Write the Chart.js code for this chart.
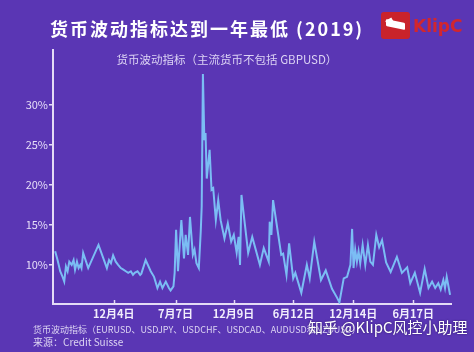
<!DOCTYPE html>
<html>
<head>
<meta charset="utf-8">
<script src="https://cdn.jsdelivr.net/npm/chart.js@4.4.1/dist/chart.umd.min.js"></script>
<style>
  html,body{margin:0;padding:0;background:#5a36b4;}
  #wrap{position:relative;width:474px;height:352px;overflow:hidden;background:#5a36b4;font-family:"Noto Sans CJK SC","Noto Sans",sans-serif;}
  #c{position:absolute;left:0;top:0;}
  .t{position:absolute;white-space:nowrap;}
  #title{left:50px;top:15px;color:#fff;font-size:18px;font-weight:700;letter-spacing:2px;line-height:26px;}
  #sub{left:0;width:454px;text-align:center;top:51px;color:#dcd3f4;font-size:11.5px;line-height:16px;}
  #logo{left:381px;top:12px;width:29px;height:27px;background:#c9232b;border-radius:3px;}
  #logo i{position:absolute;left:5px;top:9px;width:19px;height:7px;background:#fff;transform:skewY(12deg);border-radius:1px;}
  #logo b{position:absolute;left:5px;top:7px;width:7px;height:5px;background:#fff;transform:rotate(-30deg);}
  #brand{left:413px;top:14px;color:#d2262e;font-family:"DejaVu Sans",sans-serif;font-weight:700;font-size:17px;line-height:24px;}
  #foot1{left:33px;top:323px;color:#ddd5f3;font-size:9px;line-height:13px;}
  #foot2{left:33px;top:335px;color:#ddd5f3;font-size:10px;line-height:14px;}
  #wm{left:308px;top:316px;color:#fff;font-size:15px;line-height:22px;text-shadow:0 0 2px rgba(40,20,90,0.9);}
</style>
</head>
<body>
<div id="wrap">
  <canvas id="c" width="474" height="352"></canvas>
  <div class="t" id="title">货币波动指标达到一年最低 (2019)</div>
  <div class="t" id="logo"><i></i><b></b></div>
  <div class="t" id="brand">KlipC</div>
  <div class="t" id="sub">货币波动指标（主流货币不包括 GBPUSD）</div>
  <div class="t" id="foot1">货币波动指标（EURUSD、USDJPY、USDCHF、USDCAD、AUDUSD和NZDUSD）</div>
  <div class="t" id="foot2">来源：Credit Suisse</div>
  <div class="t" id="wm">知乎 @KlipC风控小助理</div>
</div>
<script>
// dates as decimal years, values in %
const dates = [
  2002.47,2002.57,2002.68,2002.78,2002.85,2002.92,2002.99,2003.06,2003.16,2003.24,
  2003.30,2003.38,2003.45,2003.52,2003.57,2003.64,2003.85,2004.28,2004.63,2004.72,
  2004.80,2004.89,2005.00,2005.10,2005.21,2005.32,2005.42,2005.52,2005.63,2005.72,
  2005.79,2005.91,2006.02,2006.07,2006.25,2006.46,2006.60,2006.74,2006.85,2006.95,
  2007.09,2007.22,2007.29,2007.41,2007.46,2007.52,2007.60,2007.74,2007.85,2007.92,
  2008.02,2008.10,2008.22,2008.29,2008.37,2008.47,2008.55,2008.59,2008.64,2008.70,
  2008.75,2008.80,2008.92,2009.00,2009.07,2009.18,2009.28,2009.38,2009.54,2009.68,
  2009.82,2009.93,2010.05,2010.13,2010.19,2010.25,2010.53,2010.70,2011.02,2011.18,
  2011.39,2011.43,2011.50,2011.57,2011.91,2011.99,2012.13,2012.24,2012.41,2012.50,
  2012.75,2012.98,2013.10,2013.29,2013.57,2013.77,2014.03,2014.24,2014.34,2014.52,
  2014.66,2014.80,2014.87,2014.93,2015.00,2015.07,2015.14,2015.21,2015.31,2015.42,
  2015.53,2015.63,2015.74,2015.88,2016.00,2016.12,2016.29,2016.48,2016.74,2016.95,
  2017.17,2017.30,2017.49,2017.71,2017.90,2018.06,2018.21,2018.34,2018.47,2018.57,
  2018.68,2018.75,2018.82,2018.96
];
const volatility = [
  11.7,10.6,9.2,8.5,7.9,9.8,9.2,10.4,10.0,10.6,
  9.4,10.4,9.6,10.0,9.6,11.5,9.6,12.5,9.6,10.6,
  10.2,11.2,10.4,10.0,9.6,9.4,9.2,9.0,9.2,8.75,
  9.0,9.2,8.75,8.9,10.6,9.2,8.5,7.1,7.9,7.1,
  7.9,7.1,6.8,7.3,9.0,14.4,9.2,15.6,10.8,13.75,
  11.25,16.0,11.25,11.9,10.2,9.6,14.2,17.3,33.9,25.6,
  26.5,20.8,24.4,19.4,19.6,15.6,18.1,15.6,13.3,15.2,
  12.9,13.75,11.5,13.5,10.0,18.75,11.5,13.5,10.0,12.1,
  10.4,15.4,13.75,18.1,11.25,11.4,8.75,12.7,8.3,9.0,
  6.5,10.0,8.3,12.9,8.1,9.3,7.0,5.9,5.3,8.3,
  8.5,10.0,14.5,9.6,11.9,10.4,11.7,10.2,12.5,10.0,
  12.5,10.4,10.0,13.75,12.2,13.1,10.3,9.1,11.0,9.0,
  9.7,7.7,9.0,6.5,9.5,7.1,7.9,7.1,7.7,6.9,
  8.1,7.1,8.5,6.25
];
const xTickPositions = [2004.92, 2007.5, 2009.92, 2012.42, 2014.92, 2017.42];
const xTickLabels = ["12月4日", "7月7日", "12月9日", "6月12日", "12月14日", "6月17日"];
const yTickValues = [10, 15, 20, 25, 30];

const axisColor = "#e4dbf6";
const font = {family: '"Noto Sans CJK SC","Noto Sans",sans-serif', size: 11};

const innerXTicks = {
  id: "innerXTicks",
  afterDraw(chart) {
    const {ctx, chartArea, scales} = chart;
    ctx.save();
    ctx.strokeStyle = axisColor;
    ctx.lineWidth = 1.5;
    xTickPositions.forEach(v => {
      const px = Math.round(scales.x.getPixelForValue(v)) + 0.5;
      ctx.beginPath();
      ctx.moveTo(px, chartArea.bottom);
      ctx.lineTo(px, chartArea.bottom - 4);
      ctx.stroke();
    });
    ctx.restore();
  }
};

new Chart(document.getElementById("c"), {
  type: "line",
  data: {
    datasets: [{
      data: dates.map((d, i) => ({x: d, y: volatility[i]})),
      borderColor: "#7bbdf4",
      borderWidth: 2,
      pointRadius: 0,
      tension: 0,
      fill: false
    }]
  },
  options: {
    responsive: false,
    animation: false,
    devicePixelRatio: 1,
    layout: {padding: {top: 50, right: 23, left: 0, bottom: 0}},
    plugins: {legend: {display: false}, tooltip: {enabled: false}, title: {display: false}},
    scales: {
      x: {
        type: "linear",
        min: 2002.38,
        max: 2019.0,
        afterBuildTicks(scale) { scale.ticks = xTickPositions.map(v => ({value: v})); },
        afterFit(scale) { scale.height = 48; },
        ticks: {
          color: "#f2eefc",
          font: {...font, weight: "bold"},
          padding: 3,
          maxRotation: 0,
          autoSkip: false,
          callback: (v, i) => xTickLabels[i]
        },
        grid: {display: true, drawOnChartArea: false, drawTicks: false, color: axisColor},
        border: {display: true, color: axisColor, width: 2}
      },
      y: {
        type: "linear",
        min: 5.1,
        max: 36.9,
        afterBuildTicks(scale) { scale.ticks = yTickValues.map(v => ({value: v})); },
        afterFit(scale) { scale.width = 53; },
        ticks: {
          color: "#e6def8",
          font: font,
          padding: 1,
          callback: v => v + "%"
        },
        grid: {display: true, drawOnChartArea: false, drawTicks: true, tickLength: 4, color: axisColor, lineWidth: 1.5},
        border: {display: true, color: axisColor, width: 2}
      }
    }
  },
  plugins: [innerXTicks]
});
</script>
</body>
</html>
